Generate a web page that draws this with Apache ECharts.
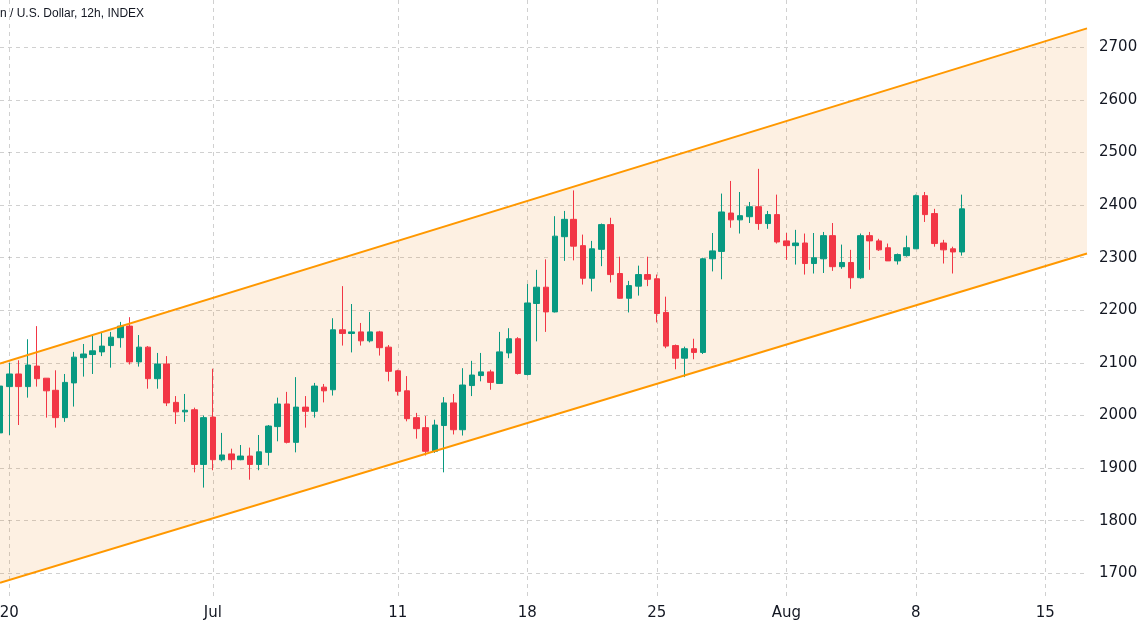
<!DOCTYPE html>
<html><head><meta charset="utf-8">
<script src="https://cdn.jsdelivr.net/npm/echarts@6/dist/echarts.min.js"></script>
<style>html,body{margin:0;padding:0;background:#fff}#c{width:1140px;height:634px}</style>
</head><body><div id="c"></div>
<script>
// 12h candles, index 0 = first (partially visible) candle at the left edge
const opens  = [1967,2055,2079,2055,2094,2071,2048,1996,2062,2110,2116,2121,2133,2148,2170,2102,2130,2070,2098,2025,2007,2011,1907,1997,1916,1927,1916,1923,1907,1930,1979,2022,1949,2016,2008,2054,2049,2163,2156,2159,2142,2159,2130,2085,2047,1996,1977,1932,1981,2024,1973,2057,2076,2083,2061,2119,2146,2078,2213,2244,2197,2340,2373,2323,2261,2316,2363,2270,2223,2246,2268,2260,2196,2133,2109,2127,2120,2298,2312,2385,2372,2378,2397,2365,2382,2332,2323,2328,2289,2298,2342,2283,2291,2262,2342,2332,2319,2294,2304,2317,2418,2384,2328,2317,2311];
const closes = [2056,2079,2055,2096,2070,2047,1996,2063,2111,2117,2123,2132,2149,2170,2102,2130,2070,2098,2024,2007,2010,1907,1996,1916,1925,1916,1923,1907,1931,1980,2022,1949,2016,2008,2056,2047,2163,2156,2159,2142,2159,2129,2084,2046,1994,1975,1932,1982,2024,1973,2058,2077,2083,2063,2121,2146,2080,2214,2244,2197,2341,2373,2322,2261,2317,2363,2268,2223,2247,2268,2259,2194,2132,2109,2127,2120,2298,2313,2387,2372,2380,2397,2365,2382,2330,2323,2328,2289,2300,2342,2283,2291,2262,2342,2332,2315,2294,2306,2319,2418,2382,2327,2315,2311,2393];
const lows   = [1960,1963,1982,2034,2055,1996,1977,1988,2017,2074,2079,2113,2091,2129,2097,2093,2051,2051,2018,1984,1988,1892,1863,1896,1913,1897,1915,1878,1896,1905,1951,1947,1930,1977,1996,2025,2038,2133,2120,2133,2139,2114,2065,2038,1989,1956,1924,1929,1892,1964,1962,2037,2065,2049,2060,2109,2078,2076,2141,2159,2196,2294,2295,2249,2236,2284,2253,2222,2196,2228,2246,2177,2128,2088,2073,2107,2117,2274,2259,2357,2346,2366,2353,2355,2327,2296,2287,2268,2270,2271,2275,2279,2241,2260,2277,2313,2294,2287,2302,2317,2368,2321,2289,2270,2304];
const highs  = [2060,2100,2105,2145,2170,2071,2086,2079,2121,2136,2153,2159,2159,2178,2187,2153,2132,2119,2113,2037,2041,2015,2000,2089,1967,1937,1944,1939,1963,1982,2034,2045,2073,2037,2062,2060,2185,2246,2212,2176,2197,2161,2134,2087,2075,2005,1999,1992,2035,2041,2090,2104,2119,2087,2159,2166,2149,2250,2277,2297,2379,2389,2428,2344,2332,2365,2376,2302,2256,2285,2302,2268,2226,2135,2131,2146,2300,2347,2422,2446,2425,2406,2469,2389,2420,2347,2353,2346,2347,2349,2366,2325,2315,2346,2349,2336,2327,2308,2342,2420,2425,2393,2334,2321,2420];

const xTickIndex  = [1, 23, 43, 57, 71, 85, 99, 113];
const xTickLabels = ['20', 'Jul', '11', '18', '25', 'Aug', '8', '15'];
const yTicks = [1700, 1800, 1900, 2000, 2100, 2200, 2300, 2400, 2500, 2600, 2700];

const channelX     = [0, 117.5];
const channelUpper = [2099, 2736];
const channelLower = [1682, 2308];

const titleText = 'n / U.S. Dollar, 12h, INDEX';

const candles = opens.map((o, i) => [i, o, closes[i], lows[i], highs[i]]);
const labelMap = {};
xTickIndex.forEach((v, i) => { labelMap[v] = xTickLabels[i]; });

const TXT = '#131722';
const GRID = 'rgba(120,120,120,0.35)';
const FONT = 'DejaVu Sans';

const chart = echarts.init(document.getElementById('c'), null, {renderer: 'canvas'});
chart.setOption({
  animation: false,
  backgroundColor: '#ffffff',
  graphic: [{
    type: 'text', left: 0, top: 8, z: 100,
    style: {text: titleText, fill: TXT, font: '12px "Liberation Sans"'}
  }],
  grid: {left: 0, right: 53, top: 0, bottom: 37, outerBoundsMode: 'none', containLabel: false},
  xAxis: {
    type: 'value', min: 0, max: 117.5,
    axisLine: {show: false},
    axisTick: {show: false, customValues: xTickIndex},
    axisLabel: {customValues: xTickIndex, formatter: v => labelMap[v] || '',
      color: TXT, fontSize: 15, fontFamily: FONT, margin: 9},
    splitLine: {show: true, lineStyle: {color: GRID, type: [4, 4], width: 1}}
  },
  yAxis: {
    type: 'value', position: 'right', min: 1655, max: 2790,
    axisLine: {show: false},
    axisTick: {show: false, customValues: yTicks},
    axisLabel: {customValues: yTicks, formatter: v => String(v), color: TXT, fontSize: 15,
      fontFamily: FONT, margin: 12, align: 'left'},
    splitLine: {show: true, lineStyle: {color: GRID, type: [4, 4], width: 1}}
  },
  series: [
    {
      type: 'custom', silent: true, z: 1, clip: true, data: [0],
      renderItem: (params, api) => {
        const top = channelX.map((x, i) => api.coord([x, channelUpper[i]]));
        const bot = channelX.map((x, i) => api.coord([x, channelLower[i]])).reverse();
        return {type: 'polygon', shape: {points: top.concat(bot)},
          style: {fill: 'rgba(238,130,13,0.12)'}};
      }
    },
    {
      type: 'candlestick', z: 2, data: candles,
      encode: {x: 0, y: [1, 2, 3, 4]},
      barWidth: 6, clip: true,
      itemStyle: {color: '#089981', color0: '#F23645',
        borderColor: '#089981', borderColor0: '#F23645', borderWidth: 1}
    },
    {
      type: 'line', z: 3, silent: true, showSymbol: false, clip: true,
      data: channelX.map((x, i) => [x, channelUpper[i]]),
      lineStyle: {color: '#FF9800', width: 2}
    },
    {
      type: 'line', z: 3, silent: true, showSymbol: false, clip: true,
      data: channelX.map((x, i) => [x, channelLower[i]]),
      lineStyle: {color: '#FF9800', width: 2}
    }
  ]
});
</script></body></html>
